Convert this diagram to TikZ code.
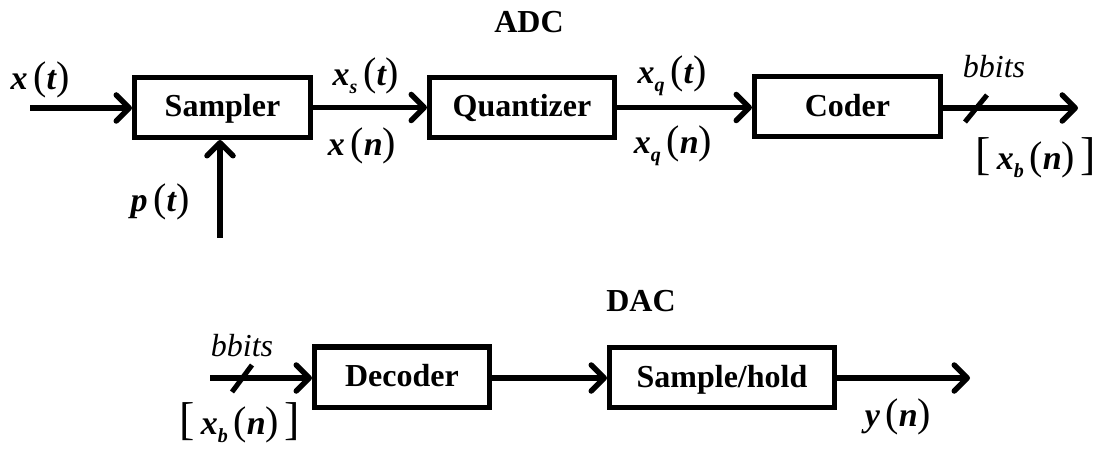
\documentclass[tikz,border=0pt]{standalone}
\usepackage{fontspec}
\setmainfont{Liberation Serif}
\usepackage{tikz}
\usetikzlibrary{arrows.meta,calc}

\newcommand{\lp}{\,{\normalfont\fontsize{40}{40}\selectfont(}}
\newcommand{\rp}{{\normalfont\fontsize{40}{40}\selectfont)}}
\newcommand{\lb}{{\normalfont\fontsize{46}{46}\selectfont[}\,}
\newcommand{\rb}{\,{\normalfont\fontsize{46}{46}\selectfont]}}
\newcommand{\sbs}[1]{\raisebox{-8pt}{\fontsize{20}{20}\selectfont #1}}

\begin{document}
\begin{tikzpicture}[x=1pt,y=-1pt,
  blk/.style={draw,line width=5pt,inner sep=0pt,minimum height=60pt,
    text height=21pt,text depth=2pt,
    font=\fontsize{32}{34}\selectfont\bfseries},
  lab/.style={inner sep=0pt,font=\fontsize{34}{36}\selectfont\bfseries\itshape},
  bit/.style={inner sep=0pt,font=\fontsize{32}{34}\selectfont\itshape},
  ttl/.style={inner sep=0pt,font=\fontsize{32}{34}\selectfont\bfseries},
  sig/.style={line width=5.5pt,-{Straight Barb[length=13pt,width=26pt,round]}},
  slash/.style={line width=5pt}]
\useasboundingbox (0,0) rectangle (1096,449);

% ADC
\node (adc) at (529,22) [ttl] {ADC};
\node (smp) at (222.5,107.5) [blk,minimum width=176pt] {Sampler};
\node (qnt) at (522,107.5) [blk,minimum width=185pt] {Quantizer};
\node (cod) at (847.5,107) [blk,minimum width=186pt] {Coder};

\coordinate (xin) at (30,108);
\coordinate (pin) at (220,238);
\coordinate (xout) at (1078,108);
\coordinate (sl1) at (976,108);

\node (xt) at (40,80) [lab] {x\lp t\rp};
\node (pt) at (160,202) [lab] {p\lp t\rp};
\node (xst) at (366,76) [lab] {x\sbs{s}\lp t\rp};
\node (xn) at (362,146) [lab] {x\lp n\rp};
\node (xqt) at (672,76) [lab] {x\sbs{q}\lp t\rp};
\node (xqn) at (673,146) [lab] {x\sbs{q}\lp n\rp};
\node (bb1) at (994,67) [bit] {bbits};
\node (xb1) at (1036,158) [lab] {\lb x\sbs{b}\lp n\rp\rb};

\draw[sig] (xin) -- (xin -| smp.west);
\draw[sig] (pin) -- (pin |- smp.south);
\draw[sig] (smp.east) -- (qnt.west);
\draw[sig] (qnt.east) -- (qnt.east -| cod.west);
\draw[sig] (cod.east |- xout) -- (xout);
\draw[slash] ([shift={(11,-13)}]sl1) -- ([shift={(-11,14)}]sl1);

% DAC
\node (dac) at (641,301) [ttl] {DAC};
\node (dec) at (402,377) [blk,minimum width=175pt] {Decoder};
\node (shd) at (722,377.5) [blk,minimum width=225pt] {Sample/hold};

\coordinate (din) at (210,378);
\coordinate (yout) at (970,378);
\coordinate (sl2) at (242,378);

\node (bb2) at (242,346) [bit] {bbits};
\node (xb2) at (240,423) [lab] {\lb x\sbs{b}\lp n\rp\rb};
\node (yn) at (898,417) [lab] {y\lp n\rp};

\draw[sig] (din) -- (din -| dec.west);
\draw[sig] (dec.east |- din) -- (din -| shd.west);
\draw[sig] (shd.east |- yout) -- (yout);
\draw[slash] ([shift={(10,-13)}]sl2) -- ([shift={(-10,14)}]sl2);
\end{tikzpicture}
\end{document}
